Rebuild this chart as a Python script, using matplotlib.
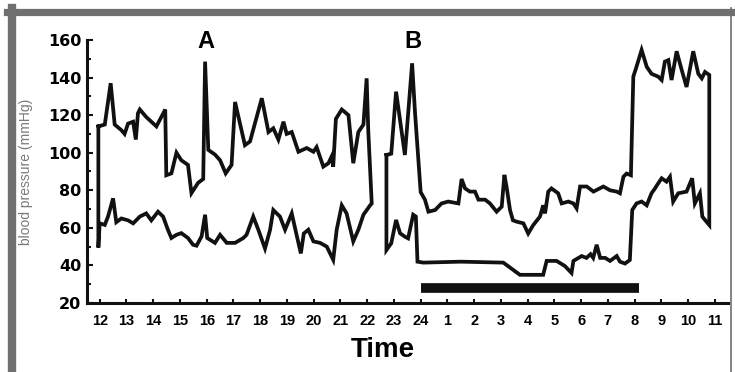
import numpy as np
import matplotlib.pyplot as plt
from matplotlib.lines import Line2D

# time in hours after 12:00 (tick 0 = "12", tick 12 = "24", tick 23 = "11")
hour_labels = ['12', '13', '14', '15', '16', '17', '18', '19', '20', '21', '22', '23',
               '24', '1', '2', '3', '4', '5', '6', '7', '8', '9', '10', '11']

# recording A (day)
a_sys_t = [-0.05, 0.19, 0.41, 0.56, 0.81, 0.93, 1.06, 1.25, 1.35, 1.43, 1.50, 1.74, 2.12,
           2.45, 2.49, 2.68, 2.87, 3.05, 3.30, 3.43, 3.68, 3.87, 3.94, 4.06, 4.31, 4.50,
           4.71, 4.93, 5.06, 5.43, 5.62, 6.06, 6.31, 6.49, 6.68, 6.87, 6.99, 7.18, 7.43,
           7.74, 7.99, 8.11, 8.36, 8.55, 8.67, 8.73, 8.83, 9.05, 9.30, 9.48, 9.67, 9.86,
           9.98, 10.04, 10.17]
a_sys = [114, 115, 137, 115, 112, 110, 115.5, 116.5, 107, 121, 123, 119, 114,
         123, 88, 89, 100, 96, 93.5, 78.5, 84, 86, 148.5, 101.5, 99, 96,
         89, 93.5, 127, 104, 106, 129, 111, 113, 107, 116.5, 110, 111, 100.5,
         102.5, 100.5, 103, 92.6, 94.4, 98, 92.6, 118, 123, 120, 94.4, 111, 115,
         139.6, 112, 73]
a_dia_t = [-0.05, 0.0, 0.19, 0.31, 0.50, 0.62, 0.81, 1.06, 1.25, 1.50, 1.74, 1.93, 2.18,
           2.37, 2.55, 2.68, 2.87, 3.05, 3.30, 3.49, 3.62, 3.81, 3.94, 4.02, 4.31, 4.50,
           4.75, 5.06, 5.37, 5.49, 5.74, 5.93, 6.18, 6.37, 6.49, 6.74, 6.93, 7.18, 7.36,
           7.52, 7.63, 7.80, 7.99, 8.24, 8.49, 8.73, 8.86, 9.05, 9.23, 9.48, 9.67, 9.86,
           10.11, 10.17]
a_dia = [49.5, 62.4, 61.6, 66, 75.7, 63, 65, 64, 62.4, 66, 67.7, 64, 68.6,
         66, 59, 54.6, 56.3, 57.2, 54.6, 51, 50.5, 55.5, 67, 54.6, 52, 56.3,
         52, 52, 54.6, 56.3, 66, 59, 49, 59, 69.5, 66, 59, 67.7, 56.3,
         46.4, 57, 59, 52.8, 52, 50, 43, 59, 72, 67.7, 52.8, 59, 67,
         72, 73]

# recording B (night)
b_sys_t = [10.72, 10.90, 11.08, 11.41, 11.68, 11.79, 12.00, 12.16, 12.29, 12.54, 12.78,
           13.03, 13.41, 13.53, 13.66, 13.84, 14.03, 14.16, 14.41, 14.59, 14.84, 15.03,
           15.13, 15.21, 15.34, 15.45, 15.59, 15.84, 16.02, 16.21, 16.46, 16.58, 16.65,
           16.77, 16.89, 17.14, 17.27, 17.52, 17.71, 17.83, 17.96, 18.21, 18.46, 18.83,
           19.08, 19.33, 19.45, 19.58, 19.70, 19.86, 19.95, 20.07, 20.26, 20.45, 20.63,
           20.88, 21.01, 21.13, 21.26, 21.38, 21.57, 21.76, 21.94, 22.19, 22.38, 22.51,
           22.63, 22.79]
b_sys = [98.8, 99.5, 132.5, 98.8, 147.6, 121, 79, 75, 68.6, 69.5, 73,
         74, 73, 86, 81, 79.3, 79.3, 75, 75, 73, 68.6, 71.3,
         88.2, 82, 69.5, 64, 63.3, 62.4, 57, 61.5, 66, 72, 67.7,
         79.3, 81, 78.4, 73, 74, 73, 70.4, 82, 82, 79.3, 82,
         80, 79.3, 78.4, 87.2, 88.9, 88, 140.5, 145.8, 154.7, 145.8, 142,
         140.5, 138.7, 148.5, 149.3, 138.7, 154, 144, 135, 154, 142, 139.6,
         143, 141.4]
b_dia_t = [10.72, 10.90, 11.08, 11.23, 11.41, 11.53, 11.72, 11.82, 11.88, 12.10, 13.50,
           15.09, 15.71, 16.58, 16.71, 17.08, 17.39, 17.64, 17.71, 18.02, 18.20, 18.35,
           18.45, 18.58, 18.71, 18.90, 19.08, 19.33, 19.45, 19.64, 19.82, 19.91, 20.07,
           20.26, 20.45, 20.63, 20.76, 20.88, 21.01, 21.19, 21.32, 21.44, 21.63, 21.94,
           22.07, 22.15, 22.25, 22.44, 22.53, 22.63, 22.79]
b_dia = [48.2, 51.8, 64.2, 57.1, 55.3, 54.4, 67, 66, 42, 41.5, 42,
         41.5, 35, 35, 42.4, 42.4, 39.7, 36, 42.4, 45, 44, 46,
         44, 51, 44, 44, 42.4, 45, 42, 41, 42.9, 69.5, 73,
         74, 72, 78.4, 81, 83.7, 86.4, 84.6, 87.2, 74, 78.4, 79.3,
         83.7, 86.4, 73, 78.4, 66, 64.2, 61.5]

# sleep period bar (hours after 12:00) and its level
sleep_start, sleep_end = 12.0, 20.15
sleep_level = 28

fig = plt.figure(figsize=(7.35, 3.72), dpi=100)
ax = fig.add_axes([87 / 735, 69 / 372, 641 / 735, 263 / 372])


def loop(t_sys, v_sys, t_dia, v_dia):
    # systolic forward, diastolic back, closed at the start
    t = np.concatenate([t_sys, t_dia[::-1], t_sys[:1]])
    v = np.concatenate([v_sys, v_dia[::-1], v_sys[:1]])
    return t, v


for ts, vs, td, vd in [(a_sys_t, a_sys, a_dia_t, a_dia), (b_sys_t, b_sys, b_dia_t, b_dia)]:
    t, v = loop(np.array(ts), np.array(vs), np.array(td), np.array(vd))
    ax.plot(t, v, color='#111111', lw=2.7, solid_joinstyle='miter')

ax.hlines(sleep_level, sleep_start, sleep_end, color='#111111', lw=7, capstyle='butt')

ax.text(3.97, 159, 'A', ha='center', va='center', fontsize=17, fontweight='bold',
        family='Liberation Sans')
ax.text(11.71, 159, 'B', ha='center', va='center', fontsize=17, fontweight='bold',
        family='Liberation Sans')

ax.set_xlim(-0.475, 23.49)
ax.set_ylim(20, 160)
ax.set_xticks(range(len(hour_labels)))
ax.set_xticklabels(hour_labels, fontsize=10.5, fontweight='bold',
                   family=['Liberation Sans Narrow', 'Liberation Sans'])
ax.set_yticks(np.arange(20, 161, 20))
ax.set_yticks(np.arange(30, 160, 20), minor=True)
ax.set_yticklabels([str(v) for v in range(20, 161, 20)], fontsize=11.5,
                   fontweight='bold', family='DejaVu Sans')
ax.tick_params(axis='both', which='both', direction='in', width=1.5, color='#111111')
ax.tick_params(axis='x', length=3, pad=8)
ax.tick_params(axis='y', which='major', length=4, pad=4)
ax.tick_params(axis='y', which='minor', length=3)

for s in ['top', 'right']:
    ax.spines[s].set_visible(False)
for s in ['left', 'bottom']:
    ax.spines[s].set_linewidth(2.2)
    ax.spines[s].set_color('#111111')

ax.set_ylabel('blood pressure (mmHg)', fontsize=10, color='#7a7a7a',
              family='Liberation Sans')
ax.yaxis.set_label_coords(-54 / 641, 0.5)
ax.set_xlabel('Time', fontsize=20, fontweight='bold', family='Liberation Sans')
ax.xaxis.set_label_coords(296 / 641, -34 / 263)

# grey frame around the panel
frame = '#6f6f6f'
fig.add_artist(Line2D([7 / 735, 733 / 735], [1 - 11.5 / 372] * 2, color=frame, lw=5.2,
                      transform=fig.transFigure))
fig.add_artist(Line2D([11.5 / 735] * 2, [0, 1 - 8 / 372], color=frame, lw=6,
                      transform=fig.transFigure))
fig.add_artist(Line2D([731 / 735] * 2, [0, 1 - 8 / 372], color=frame, lw=1.2,
                      transform=fig.transFigure))

fig.savefig('out.png', dpi=100)
